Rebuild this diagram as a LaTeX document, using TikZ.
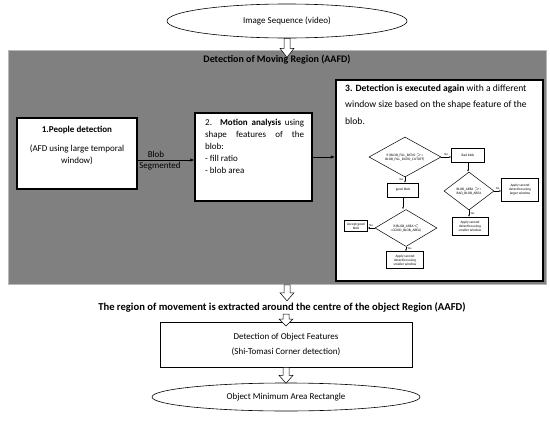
\documentclass[tikz,border=0pt]{standalone}
\usepackage{fontspec}
\setmainfont{Carlito}
\usetikzlibrary{shapes.geometric,arrows.meta,calc}
\newcommand{\harrow}[3]{% start, shaft length, head length
  \draw[fill=white,line width=0.5pt] ($#1+(-3,0)$) -- ++(6,0) -- ++(0,#2) -- ++(4,0) -- ++(-7,#3) -- ++(-7,-#3) -- ++(4,0) -- cycle;}
\begin{document}
\begin{tikzpicture}[x=1pt,y=-1pt,
  every node/.style={font=\fontsize{9}{11}\selectfont, inner sep=0pt},
  mainbox/.style={draw=black, line width=1.3pt, fill=white},
  thinbox/.style={draw=black, line width=0.6pt, fill=white},
  oval/.style={ellipse, draw=black, line width=0.6pt, fill=white},
  tiny/.style={font=\fontsize{3.5}{4}\selectfont, align=center},
  tbox/.style={draw=black, line width=0.5pt, fill=white, tiny},
  tdia/.style={diamond, aspect=1.8, draw=black, line width=0.5pt, fill=white, tiny},
  tarr/.style={-{Latex[length=2pt,width=1.8pt]}, line width=0.45pt},
  tlab/.style={font=\fontsize{3}{3.5}\selectfont},
  conn/.style={-{Latex[length=4pt,width=3.5pt]}, line width=0.7pt}
]
\useasboundingbox (0,0) rectangle (550,426);
\fill[white] (0,0) rectangle (550,426);

% top ellipse
\node[oval, minimum width=240, minimum height=34] (img) at (287,21) {Image Sequence (video)};

% gray region
\node[draw=gray!55, fill=black!50, minimum width=538, minimum height=234, anchor=north west, line width=0.8pt] (gray) at (8,50) {};
\node[font=\fontsize{10}{12}\selectfont\bfseries] (title) at (277,60) {Detection of Moving Region (AAFD)};

% box 1
\node[mainbox, minimum width=120, minimum height=71] (b1) at (77,153.5) {};
\node[font=\fontsize{9}{11}\selectfont\bfseries] (b1t) at (77,130) {1.People detection};
\node[align=center, font=\fontsize{9}{12}\selectfont] (b1s) at (77,155) {(AFD using large temporal\\window)};

% box 2
\node[mainbox, minimum width=117, minimum height=88] (b2) at (253.5,157) {};
\node[anchor=north west, align=left, font=\fontsize{9}{12}\selectfont] (b2t) at (205,119) {\makebox[99pt][s]{2. \textbf{Motion analysis} using}\\\makebox[99pt][s]{shape features of the}\\blob:\\- fill ratio\\- blob area};

% box 3
\node[draw=black, line width=2.2pt, fill=white, minimum width=207, minimum height=201] (b3) at (439.5,180.5) {};
\node[anchor=north west, align=left, font=\fontsize{9.6}{16.5}\selectfont] (b3t) at (345,84.5) {\textbf{3. Detection is executed again} with a different\\window size based on the shape feature of the\\blob.};

% connectors between main boxes
\coordinate (c1) at ($(b1.east)+(0,6.5)$);
\draw[conn] (c1) -- (c1 -| b2.west);
\node (blob) at (156,154) {Blob};
\node (seg) at (160,166) {Segmented};
\draw[conn] (b2.east) -- (b2.east -| b3.west);

% inner flowchart
\node[tdia, minimum width=72, minimum height=40] (d1) at (405,157) {if (BLOB\_FILL\_RATIO $>$=\\BLOB\_FILL\_RATIO\_CUTOFF)};
\node[tbox, minimum width=33, minimum height=14] (bad) at (468,155) {Bad blob};
\node[tdia, minimum width=50, minimum height=38] (d2) at (469,191) {BLOB\_AREA $>$=\\BAD\_BLOB\_AREA};
\node[tbox, minimum width=37, minimum height=23] (larger) at (520,190) {Apply second\\detection using\\larger window};
\node[tbox, minimum width=36, minimum height=18] (small2) at (470,226) {Apply second\\detection using\\smaller window};
\node[tbox, minimum width=31, minimum height=14] (good) at (403,190) {good blob};
\node[tdia, minimum width=62, minimum height=37] (d3) at (406,228) {if (BLOB\_AREA$<$\\=GOOD\_BLOB\_AREA)};
\node[tbox, minimum width=23, minimum height=11] (accept) at (356,226) {Accept good\\blob};
\node[tbox, minimum width=37, minimum height=17] (small1) at (405,260) {Apply second\\detection using\\smaller window};

\draw[tarr] (d1.east) -- (d1.east -| bad.west) node[tlab, midway, above=1pt] {No};
\draw[tarr] (bad.south) -- (bad.south |- d2.north);
\draw[tarr] (d2.east) -- (d2.east -| larger.west) node[tlab, midway, above=1pt] {No};
\draw[tarr] (d2.south) -- (d2.south |- small2.north) node[tlab, midway, right=1.5pt] {Yes};
\draw[tarr] (d1.south) -- (d1.south |- good.north) node[tlab, midway, left=1.5pt] {Yes};
\draw[tarr] (good.south) -- (good.south |- d3.north);
\draw[tarr] (d3.west) -- (d3.west -| accept.east) node[tlab, midway, above=1pt] {No};
\draw[tarr] (d3.south) -- (d3.south |- small1.north) node[tlab, midway, right=1.5pt] {Yes};

% bottom part
\node[font=\fontsize{10.6}{12}\selectfont\bfseries] (region) at (282,307) {The region of movement is extracted around the centre of the object Region (AAFD)};
\node[thinbox, minimum width=252, minimum height=45, align=center, font=\fontsize{9}{15}\selectfont] (feat) at (286,344.5) {Detection of Object Features\\(Shi-Tomasi Corner detection)};
\node[oval, minimum width=268, minimum height=28] (rect) at (286,397) {Object Minimum Area Rectangle};

% hollow arrows
\harrow{(img.south)}{10}{9}
\harrow{(gray.south -| img.south)}{8}{8}
\harrow{($(region.south -| feat.north)+(0,2)$)}{5}{7}
\harrow{(feat.south)}{8}{8}
\end{tikzpicture}
\end{document}
